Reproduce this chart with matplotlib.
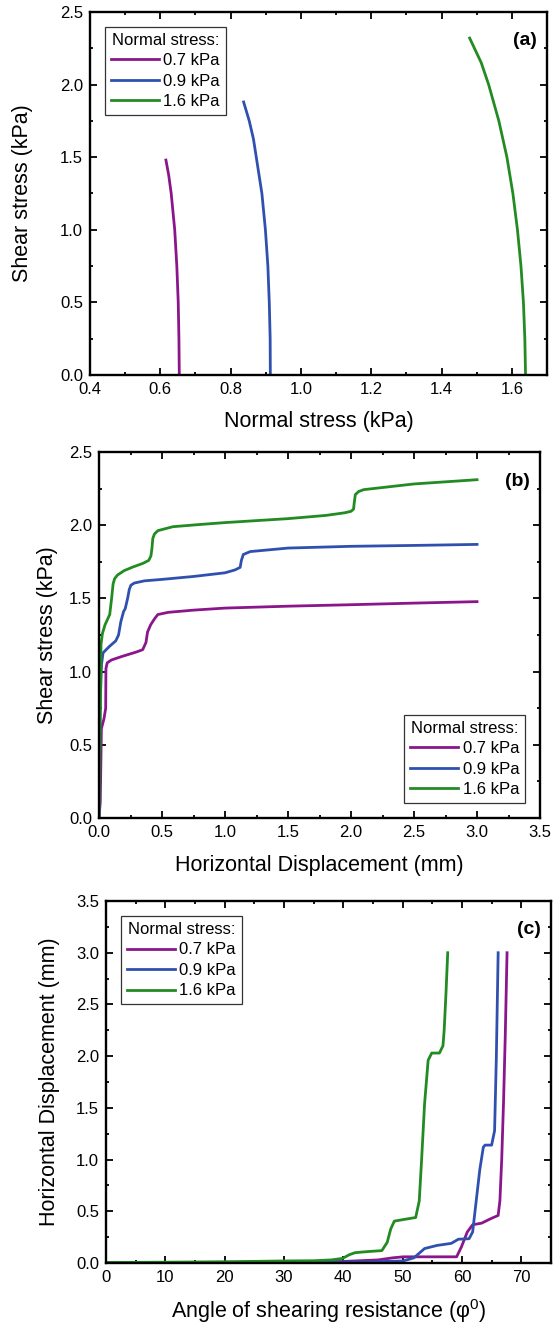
import matplotlib
matplotlib.use('Agg')
import matplotlib.pyplot as plt
from matplotlib.ticker import MultipleLocator, FormatStrFormatter

plt.rcParams['font.family'] = ['Liberation Sans', 'DejaVu Sans']
plt.rcParams['mathtext.fontset'] = 'custom'
plt.rcParams['mathtext.rm'] = 'Liberation Sans'

labels = ['0.7 kPa', '0.9 kPa', '1.6 kPa']
colors = ['#8b168b', '#3050b0', '#228b22']

# (a) shear stress vs normal stress
a_x_07 = [0.654, 0.653, 0.651, 0.647, 0.641, 0.636, 0.631, 0.624, 0.616]
a_y_07 = [0.0, 0.25, 0.5, 0.75, 1.0, 1.125, 1.25, 1.375, 1.48]
a_x_09 = [0.913, 0.9125, 0.910, 0.906, 0.899, 0.889, 0.873, 0.865, 0.853, 0.837]
a_y_09 = [0.0, 0.25, 0.5, 0.75, 1.0, 1.25, 1.5, 1.625, 1.75, 1.88]
a_x_16 = [1.639, 1.637, 1.633, 1.626, 1.616, 1.603, 1.586, 1.563, 1.534, 1.513, 1.480]
a_y_16 = [0.0, 0.25, 0.5, 0.75, 1.0, 1.25, 1.5, 1.75, 2.0, 2.15, 2.32]

# (b) shear stress vs horizontal displacement
b_x_07 = [0.0, 0.01, 0.019, 0.04, 0.053, 0.055, 0.065, 0.1, 0.187, 0.30, 0.347,
          0.373, 0.385, 0.41, 0.44, 0.467, 0.55, 0.75, 1.0, 1.5, 2.0, 2.5, 3.0]
b_y_07 = [0.0, 0.11, 0.61, 0.68, 0.75, 1.02, 1.06, 1.08, 1.105, 1.135, 1.15,
          1.2, 1.27, 1.32, 1.36, 1.39, 1.405, 1.42, 1.434, 1.447, 1.457, 1.468, 1.478]
b_x_09 = [0.0, 0.005, 0.01, 0.02, 0.032, 0.08, 0.133, 0.155, 0.173, 0.195, 0.208,
          0.227, 0.24, 0.253, 0.28, 0.36, 0.5, 0.75, 1.0, 1.08, 1.12, 1.13, 1.145,
          1.2, 1.5, 2.0, 2.5, 3.0]
b_y_09 = [0.0, 0.4, 0.8, 1.05, 1.128, 1.17, 1.21, 1.25, 1.34, 1.41, 1.43,
          1.5, 1.56, 1.59, 1.605, 1.62, 1.63, 1.65, 1.675, 1.695, 1.712, 1.76, 1.80,
          1.82, 1.844, 1.856, 1.862, 1.869]
b_x_16 = [0.0, 0.008, 0.016, 0.027, 0.048, 0.085, 0.1, 0.112, 0.124, 0.147, 0.2,
          0.27, 0.35, 0.395, 0.412, 0.42, 0.427, 0.44, 0.467, 0.587, 0.8, 1.0, 1.5,
          1.8, 1.95, 2.0, 2.02, 2.025, 2.034, 2.06, 2.1, 2.5, 3.0]
b_y_16 = [0.0, 0.6, 1.185, 1.26, 1.32, 1.39, 1.5, 1.6, 1.635, 1.66, 1.69,
          1.715, 1.74, 1.76, 1.79, 1.84, 1.91, 1.94, 1.963, 1.99, 2.005, 2.018, 2.045,
          2.067, 2.085, 2.095, 2.11, 2.15, 2.209, 2.23, 2.243, 2.282, 2.311]

# (c) horizontal displacement vs angle of shearing resistance
c_x_07 = [0, 12, 30, 40, 45.9, 48.3, 50.1, 55, 59.1, 59.9, 60.9, 61.8, 63.3,
          64.9, 66.1, 66.4, 66.7, 67.0, 67.3, 67.6]
c_y_07 = [0.0, 0.005, 0.01, 0.015, 0.03, 0.05, 0.06, 0.06, 0.06, 0.155, 0.30,
          0.37, 0.385, 0.43, 0.46, 0.605, 1.0, 1.54, 2.2, 3.0]
c_x_09 = [0, 20, 40, 45, 50.1, 51.9, 53.7, 55.8, 58.2, 59.4, 61.2, 61.8, 62.4,
          63.0, 63.6, 63.9, 65.0, 65.5, 65.8, 66.1]
c_y_09 = [0.0, 0.002, 0.008, 0.012, 0.02, 0.05, 0.14, 0.17, 0.19, 0.23, 0.235,
          0.30, 0.6, 0.9, 1.12, 1.14, 1.14, 1.28, 2.0, 3.0]
c_x_16 = [0, 10, 20, 30, 35, 38, 39.9, 41, 42.0, 44, 46.5, 47.4, 48, 48.6, 50.1,
          52.2, 52.8, 53.2, 53.7, 54.3, 54.9, 56.2, 56.8, 57.0, 57.3, 57.6]
c_y_16 = [0.005, 0.008, 0.012, 0.02, 0.022, 0.03, 0.045, 0.08, 0.10, 0.11, 0.12,
          0.20, 0.33, 0.405, 0.42, 0.44, 0.6, 1.0, 1.54, 1.96, 2.03, 2.03, 2.1,
          2.25, 2.6, 3.0]

fig = plt.figure(figsize=(5.59, 13.26), dpi=100)
ax_a = fig.add_axes([0.161, 0.7172, 0.8175, 0.2738])
ax_b = fig.add_axes([0.1771, 0.3831, 0.789, 0.276])
ax_c = fig.add_axes([0.1896, 0.0475, 0.796, 0.273])


def style(ax, xmaj, xmin, ymaj, ymin, xfmt, tag):
    ax.xaxis.set_major_locator(MultipleLocator(xmaj))
    ax.xaxis.set_minor_locator(MultipleLocator(xmin))
    ax.yaxis.set_major_locator(MultipleLocator(ymaj))
    ax.yaxis.set_minor_locator(MultipleLocator(ymin))
    ax.xaxis.set_major_formatter(FormatStrFormatter(xfmt))
    ax.yaxis.set_major_formatter(FormatStrFormatter('%.1f'))
    ax.tick_params(which='both', direction='in', top=True, right=True,
                   width=1.3, labelsize=12, pad=5)
    ax.tick_params(which='major', length=5)
    ax.tick_params(which='minor', length=2.5)
    for s in ax.spines.values():
        s.set_linewidth(1.7)
    ax.text(0.977, 0.92, tag, transform=ax.transAxes, ha='right', va='center',
            fontsize=14, fontweight='bold')


def add_legend(ax, loc):
    leg = ax.legend(loc=loc, title='Normal stress:', fontsize=12,
                    title_fontsize=12, fancybox=False, edgecolor='#333333',
                    framealpha=1, handlelength=2.9, handletextpad=0.25,
                    labelspacing=0.33, borderpad=0.35, borderaxespad=0.9)
    leg.get_frame().set_linewidth(0.9)


lw = 2.0
ax_a.plot(a_x_07, a_y_07, color=colors[0], lw=lw, label=labels[0])
ax_a.plot(a_x_09, a_y_09, color=colors[1], lw=lw, label=labels[1])
ax_a.plot(a_x_16, a_y_16, color=colors[2], lw=lw, label=labels[2])
ax_a.set_xlim(0.4, 1.7)
ax_a.set_ylim(0, 2.5)
style(ax_a, 0.2, 0.1, 0.5, 0.25, '%.1f', '(a)')
ax_a.set_xlabel('Normal stress (kPa)', fontsize=15.5)
ax_a.set_ylabel('Shear stress (kPa)', fontsize=15.5)
ax_a.xaxis.set_label_coords(0.5, -0.1)
ax_a.yaxis.set_label_coords(-0.125, 0.5)
add_legend(ax_a, 'upper left')

ax_b.plot(b_x_07, b_y_07, color=colors[0], lw=lw, label=labels[0])
ax_b.plot(b_x_09, b_y_09, color=colors[1], lw=lw, label=labels[1])
ax_b.plot(b_x_16, b_y_16, color=colors[2], lw=lw, label=labels[2])
ax_b.set_xlim(0, 3.5)
ax_b.set_ylim(0, 2.5)
style(ax_b, 0.5, 0.25, 0.5, 0.25, '%.1f', '(b)')
ax_b.set_xlabel('Horizontal Displacement (mm)', fontsize=15.5)
ax_b.set_ylabel('Shear stress (kPa)', fontsize=15.5)
ax_b.xaxis.set_label_coords(0.5, -0.1)
ax_b.yaxis.set_label_coords(-0.093, 0.5)
add_legend(ax_b, 'lower right')

ax_c.plot(c_x_07, c_y_07, color=colors[0], lw=lw, label=labels[0])
ax_c.plot(c_x_09, c_y_09, color=colors[1], lw=lw, label=labels[1])
ax_c.plot(c_x_16, c_y_16, color=colors[2], lw=lw, label=labels[2])
ax_c.set_xlim(0, 75)
ax_c.set_ylim(0, 3.5)
style(ax_c, 10, 5, 0.5, 0.25, '%d', '(c)')
ax_c.set_xlabel('Angle of shearing resistance (\u03c6$^0$)', fontsize=15.5)
ax_c.set_ylabel('Horizontal Displacement (mm)', fontsize=15.5)
ax_c.xaxis.set_label_coords(0.5, -0.095)
ax_c.yaxis.set_label_coords(-0.103, 0.5)
add_legend(ax_c, 'upper left')

fig.savefig('out.png', dpi=100)
